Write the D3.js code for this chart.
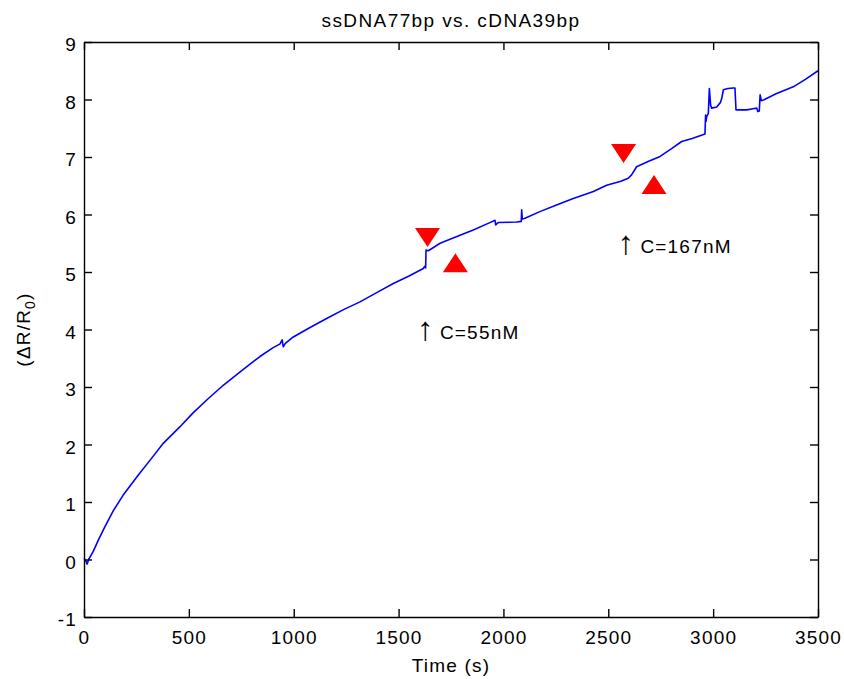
<!DOCTYPE html>
<html>
<head>
<meta charset="utf-8">
<script src="https://cdn.jsdelivr.net/npm/d3@7"></script>
<style>
  html, body { margin: 0; padding: 0; background: #fff; }
  svg text { font-family: "Liberation Sans", Arial, Helvetica, sans-serif; fill: #000; }
</style>
</head>
<body>
<svg id="chart" width="844" height="679"></svg>
<script>
// ---- data ----
const title = "ssDNA77bp vs. cDNA39bp";
const xLabel = "Time (s)";
const xTicks = [0, 500, 1000, 1500, 2000, 2500, 3000, 3500];
const yTicks = [-1, 0, 1, 2, 3, 4, 5, 6, 7, 8, 9];
const time = [0, 8, 15, 22, 44, 70, 100, 140, 187, 259, 320, 378, 458, 520, 593, 664, 740, 807, 839, 900,
  935, 945, 950, 960, 998, 1080, 1157, 1240, 1316, 1400, 1475, 1550, 1618, 1625, 1629, 1631, 1642, 1698, 1793, 1856,
  1930, 1960, 1963, 1975, 2063, 2085, 2087, 2090, 2100, 2174, 2250, 2333, 2429, 2492, 2560, 2595, 2611, 2635, 2690, 2747,
  2800, 2850, 2900, 2961, 2964, 2966, 2969, 2977, 2982, 2988, 2993, 3017, 3035, 3041, 3049, 3070, 3096, 3104, 3109, 3160,
  3190, 3208, 3213, 3220, 3224, 3230, 3240, 3300, 3382, 3440, 3500];
const signal = [0.02, -0.02, -0.08, 0.0, 0.14, 0.35, 0.57, 0.85, 1.12, 1.47, 1.75, 2.02, 2.31, 2.55, 2.80, 3.03, 3.25, 3.44, 3.53, 3.68,
  3.75, 3.82, 3.70, 3.76, 3.87, 4.04, 4.19, 4.35, 4.48, 4.65, 4.80, 4.93, 5.06, 5.10, 5.07, 5.38, 5.37, 5.50, 5.64, 5.73,
  5.85, 5.90, 5.82, 5.86, 5.87, 5.88, 6.08, 5.92, 5.93, 6.05, 6.16, 6.28, 6.40, 6.51, 6.58, 6.63, 6.69, 6.83, 6.92, 7.01,
  7.14, 7.27, 7.32, 7.40, 7.73, 7.62, 7.70, 7.76, 8.19, 7.90, 7.85, 7.87, 7.95, 8.02, 8.17, 8.19, 8.20, 8.20, 7.82, 7.82,
  7.84, 7.85, 7.79, 7.80, 8.08, 7.98, 7.99, 8.10, 8.22, 8.35, 8.50];
const downMarkX = [1638, 2573];
const downMarkY = [5.60, 7.06];
const upMarkX = [1771, 2718];
const upMarkY = [5.16, 6.52];
const noteText = ["C=55nM", "C=167nM"];
const noteX = [1597, 2553];
const noteY = [3.835, 5.325];

// ---- layout ----
const svg = d3.select("#chart");
const L = 84, R = 818, T = 42, B = 617;
const x = d3.scaleLinear().domain([0, 3500]).range([L, R]);
const y = d3.scaleLinear().domain([-1, 9]).range([B, T]);
const fs = 19, ls = 1.2, tickLen = 8;
const fmt = d => String(d); // plain hyphen-minus like the original

// line
const pts = time.map((t, i) => [t, signal[i]]);
svg.append("path")
  .datum(pts)
  .attr("fill", "none")
  .attr("stroke", "#0000ff")
  .attr("stroke-width", 1.6)
  .attr("stroke-linejoin", "round")
  .attr("d", d3.line().x(d => x(d[0])).y(d => y(d[1])));

// axes (box with inward ticks)
const axisStyle = g => {
  g.select(".domain").attr("stroke", "#000").attr("stroke-width", 1.4);
  g.selectAll(".tick line").attr("stroke", "#000").attr("stroke-width", 1.4);
};
svg.append("g").attr("transform", `translate(0,${B})`)
  .call(d3.axisBottom(x).tickValues(xTicks).tickSize(-tickLen).tickSizeOuter(0).tickFormat(fmt))
  .call(axisStyle)
  .call(g => g.selectAll("text").attr("font-size", fs).attr("letter-spacing", ls)
    .attr("y", 0).attr("dy", 27).attr("fill", "#000"));
svg.append("g").attr("transform", `translate(0,${T})`)
  .call(d3.axisTop(x).tickValues(xTicks).tickSize(-tickLen).tickSizeOuter(0).tickFormat(""))
  .call(axisStyle);
svg.append("g").attr("transform", `translate(${L},0)`)
  .call(d3.axisLeft(y).tickValues(yTicks).tickSize(-tickLen).tickSizeOuter(0).tickFormat(fmt))
  .call(axisStyle)
  .call(g => g.selectAll("text").attr("font-size", fs).attr("letter-spacing", ls)
    .attr("x", -7).attr("dy", 8.5).attr("fill", "#000"));
svg.append("g").attr("transform", `translate(${R},0)`)
  .call(d3.axisRight(y).tickValues(yTicks).tickSize(-tickLen).tickSizeOuter(0).tickFormat(""))
  .call(axisStyle);

// markers
const hw = 12.5, hh = 9.5;
svg.selectAll("path.down").data(downMarkX.map((d, i) => [d, downMarkY[i]])).enter()
  .append("path").attr("class", "down").attr("fill", "#ff0000")
  .attr("d", d => { const cx = x(d[0]), cy = y(d[1]);
    return `M${cx - hw},${cy - hh}L${cx + hw},${cy - hh}L${cx},${cy + hh}Z`; });
svg.selectAll("path.up").data(upMarkX.map((d, i) => [d, upMarkY[i]])).enter()
  .append("path").attr("class", "up").attr("fill", "#ff0000")
  .attr("d", d => { const cx = x(d[0]), cy = y(d[1]);
    return `M${cx - hw},${cy + hh}L${cx + hw},${cy + hh}L${cx},${cy - hh}Z`; });

// annotations
noteText.forEach((t, i) => {
  svg.append("text").attr("x", x(noteX[i]) - 2).attr("y", y(noteY[i]) + 1)
    .attr("font-size", 33).text("\u2191");
  svg.append("text").attr("x", x(noteX[i]) + 21).attr("y", y(noteY[i]))
    .attr("font-size", fs).attr("letter-spacing", ls).text(t);
});

// title and labels
svg.append("text").attr("x", (L + R) / 2).attr("y", 27).attr("text-anchor", "middle")
  .attr("font-size", fs).attr("letter-spacing", 1.4).text(title);
svg.append("text").attr("x", (L + R) / 2).attr("y", 672).attr("text-anchor", "middle")
  .attr("font-size", fs).attr("letter-spacing", ls).text(xLabel);
const yl = svg.append("text").attr("transform", `translate(30,${(T + B) / 2}) rotate(-90)`)
  .attr("text-anchor", "middle").attr("font-size", fs).attr("letter-spacing", ls);
yl.append("tspan").text("(\u0394R/R");
yl.append("tspan").attr("font-size", 14).attr("dy", 5).text("0");
yl.append("tspan").attr("dy", -5).text(")");
</script>
</body>
</html>
